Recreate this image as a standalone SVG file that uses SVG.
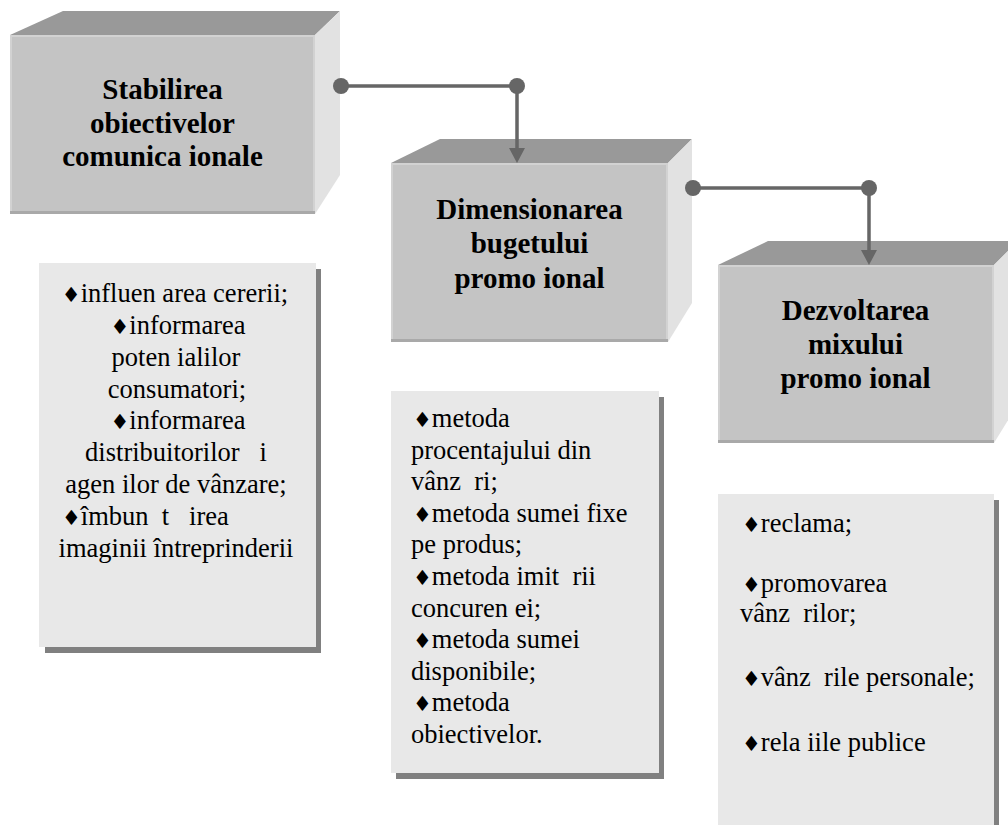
<svg xmlns="http://www.w3.org/2000/svg" width="1008" height="825" viewBox="0 0 1008 825">
  <style>
    .front { fill: #c4c4c4; }
    .top { fill: #999999; }
    .side { fill: #e2e2e2; }
    .hi { stroke: #d2d2d2; stroke-width: 2; fill: none; }
    .lo { stroke: #a9a9a9; stroke-width: 3; fill: none; }
    .title { font-weight: bold; font-size: 29px; fill: #000; text-anchor: middle; }
    .card { fill: #e8e8e8; }
    .shadow { fill: #808080; }
    .body { font-size: 26.5px; fill: #000; white-space: pre; }
    .mid { text-anchor: middle; }
    .b { font-family: 'DejaVu Sans', sans-serif; font-size: 21px; }
    .wire { stroke: #666666; stroke-width: 3.5; fill: none; }
    .dot { fill: #666666; }
  </style>
  <defs>
    <marker id="arrow" markerUnits="userSpaceOnUse" markerWidth="16" markerHeight="16" refX="0" refY="8" orient="auto" overflow="visible">
      <path d="M0,0 L15,8 L0,16 Z" fill="#666666"/>
    </marker>
  </defs>
  <rect width="1008" height="825" fill="#ffffff"/>

  <g font-family="'Liberation Serif', 'DejaVu Serif', serif">
  <!-- step 1 block -->
  <g id="step-objectives">
    <polygon class="top" points="10,35 63,11 340,11 315,35"/>
    <polygon class="side" points="315,35 340,11 340,175 315,214"/>
    <rect class="front" x="10" y="35" width="305" height="179"/>
    <path class="hi" d="M11,213 V36 H314 V213"/>
    <path class="lo" d="M10,212.5 H315"/>
    <text class="title" x="162.5" y="99">Stabilirea</text>
    <text class="title" x="162.5" y="133">obiectivelor</text>
    <text class="title" x="162.5" y="166">comunica ionale</text>
  </g>

  <!-- step 2 block -->
  <g id="step-budget">
    <polygon class="top" points="391,163 440,139 692,139 668,163"/>
    <polygon class="side" points="668,163 692,139 692,303 668,342"/>
    <rect class="front" x="391" y="163" width="277" height="179"/>
    <path class="hi" d="M392,341 V164 H667 V341"/>
    <path class="lo" d="M391,340.5 H668"/>
    <text class="title" x="529.5" y="219">Dimensionarea</text>
    <text class="title" x="529.5" y="253">bugetului</text>
    <text class="title" x="529.5" y="288">promo ional</text>
  </g>

  <!-- step 3 block -->
  <g id="step-mix">
    <polygon class="top" points="718,265 768,241 1018,241 994,265"/>
    <polygon class="side" points="994,265 1018,241 1018,404 994,443"/>
    <rect class="front" x="718" y="265" width="276" height="178"/>
    <path class="hi" d="M719,442 V266 H993 V442"/>
    <path class="lo" d="M718,441.5 H994"/>
    <text class="title" x="855.5" y="320">Dezvoltarea</text>
    <text class="title" x="855.5" y="354">mixului</text>
    <text class="title" x="855.5" y="388">promo ional</text>
  </g>

  <!-- detail card: objectives -->
  <g id="card-objectives">
    <rect class="shadow" x="45" y="269" width="276" height="384"/>
    <rect class="card" x="39" y="263" width="277" height="384"/>
    <text class="body mid" x="175" y="302"><tspan class="b">♦</tspan>influen area cererii;</text>
    <text class="body mid" x="178" y="334"><tspan class="b">♦</tspan>informarea</text>
    <text class="body mid" x="176" y="366">poten ialilor</text>
    <text class="body mid" x="177" y="398">consumatori;</text>
    <text class="body mid" x="178" y="429"><tspan class="b">♦</tspan>informarea</text>
    <text class="body mid" x="176" y="461">distribuitorilor   i</text>
    <text class="body mid" x="176" y="493">agen ilor de vânzare;</text>
    <text class="body" x="62" y="525"><tspan class="b">♦</tspan>îmbun  t   irea</text>
    <text class="body mid" x="176" y="557">imaginii întreprinderii</text>
  </g>

  <!-- detail card: budget methods -->
  <g id="card-budget">
    <rect class="shadow" x="396" y="397" width="268" height="382"/>
    <rect class="card" x="391" y="391" width="268" height="382"/>
    <text class="body" x="413" y="427"><tspan class="b">♦</tspan>metoda</text>
    <text class="body" x="411" y="459">procentajului din</text>
    <text class="body" x="411" y="490">vânz  ri;</text>
    <text class="body" x="413" y="522"><tspan class="b">♦</tspan>metoda sumei fixe</text>
    <text class="body" x="411" y="553">pe produs;</text>
    <text class="body" x="413" y="585"><tspan class="b">♦</tspan>metoda imit  rii</text>
    <text class="body" x="411" y="617">concuren ei;</text>
    <text class="body" x="413" y="648"><tspan class="b">♦</tspan>metoda sumei</text>
    <text class="body" x="411" y="680">disponibile;</text>
    <text class="body" x="413" y="711"><tspan class="b">♦</tspan>metoda</text>
    <text class="body" x="411" y="743">obiectivelor.</text>
  </g>

  <!-- detail card: promotion mix -->
  <g id="card-mix">
    <rect class="shadow" x="723" y="500" width="276" height="340"/>
    <rect class="card" x="718" y="494" width="276" height="340"/>
    <text class="body" x="742" y="532"><tspan class="b">♦</tspan>reclama;</text>
    <text class="body" x="742" y="592"><tspan class="b">♦</tspan>promovarea</text>
    <text class="body" x="740" y="622">vânz  rilor;</text>
    <text class="body" x="742" y="686"><tspan class="b">♦</tspan>vânz  rile personale;</text>
    <text class="body" x="742" y="751"><tspan class="b">♦</tspan>rela iile publice</text>
  </g>
  </g>

  <!-- elbow connectors between the steps -->
  <g id="connectors">
    <path class="wire" d="M341,86 H517 V148" marker-end="url(#arrow)"/>
    <circle class="dot" cx="341" cy="86" r="8"/>
    <circle class="dot" cx="517" cy="86" r="8"/>
    <path class="wire" d="M693,188 H869 V250" marker-end="url(#arrow)"/>
    <circle class="dot" cx="693" cy="188" r="8"/>
    <circle class="dot" cx="869" cy="188" r="8"/>
  </g>
</svg>
